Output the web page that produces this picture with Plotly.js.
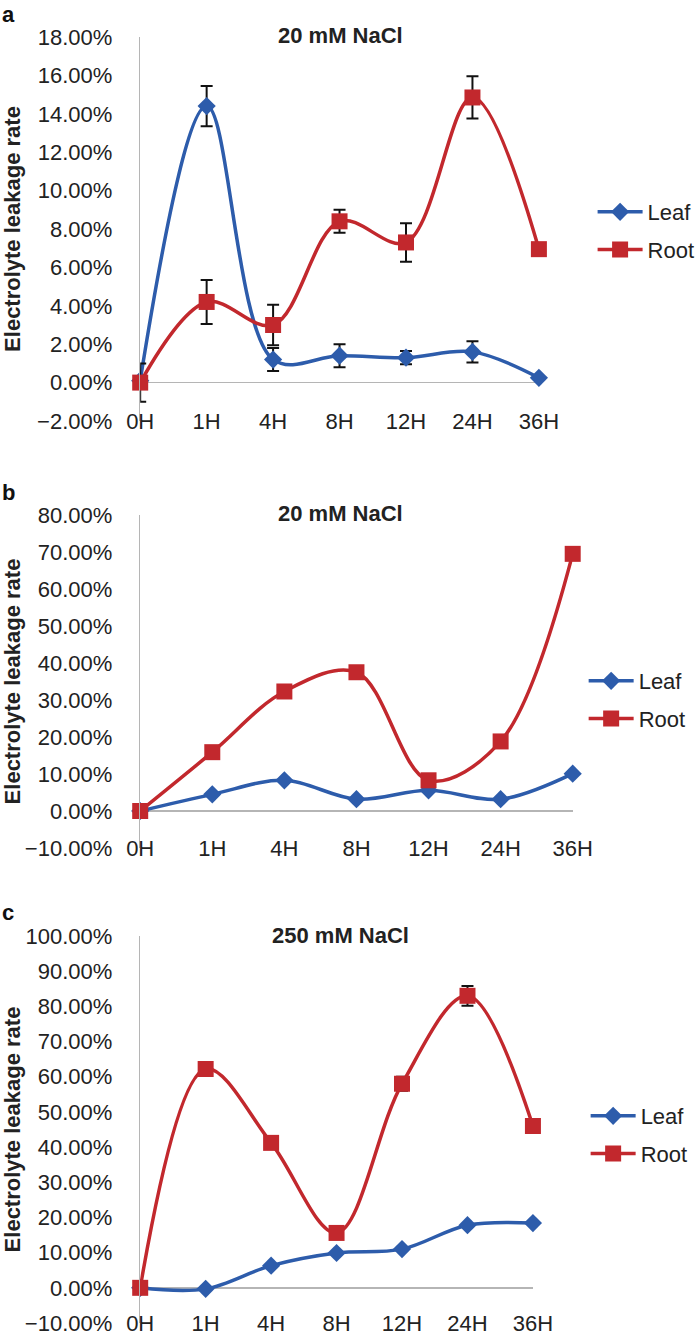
<!DOCTYPE html>
<html>
<head>
<meta charset="utf-8">
<script src="https://cdn.plot.ly/plotly-3.0.1.min.js"></script>
<style>
  html, body { margin: 0; padding: 0; background: #fff; }
  #chart { width: 700px; height: 1337px; }
</style>
</head>
<body>
<div id="chart"></div>
<script>
// time points shared by all three panels
const timePoints = ['0H', '1H', '4H', '8H', '12H', '24H', '36H'];

// panel a - 20 mM NaCl (values in %)
const leafA = [0.1, 14.4, 1.2, 1.4, 1.3, 1.6, 0.25];
const leafErrA = [null, 1.05, 0.6, 0.6, 0.35, 0.55, null];
const rootA = [0.0, 4.2, 3.0, 8.4, 7.3, 14.85, 6.95];
const rootErrA = [1.0, 1.15, 1.05, 0.6, 1.0, 1.1, null];

// panel b - 20 mM NaCl
const leafB = [0.0, 4.5, 8.3, 3.2, 5.6, 3.2, 10.1];
const rootB = [0.0, 15.9, 32.3, 37.5, 8.3, 18.8, 69.5];

// panel c - 250 mM NaCl
const leafC = [0.0, -0.3, 6.3, 9.9, 11.0, 17.8, 18.4];
const rootC = [0.0, 62.2, 41.2, 15.6, 58.0, 83.0, 46.0];
const rootErrC = [null, 1.0, null, null, 2.0, 2.8, null];

const panelTitles = ['20 mM NaCl', '20 mM NaCl', '250 mM NaCl'];
const panelLetters = ['a', 'b', 'c'];
const yRanges = [[-2, 18], [-10, 80], [-10, 100]];
const yDticks = [2, 10, 10];

const W = 700, H = 1337;
const BLUE = '#2d5cab';
const RED = '#c2282d';
const GREY = '#b5b5b5';
const TEXT = '#222222';
const FONT = 'Liberation Sans, Arial, sans-serif';

// pixel boxes of the three plot areas (left, right, top, bottom)
const boxes = [
  { l: 141, r: 542, t: 37, b: 421 },
  { l: 141, r: 576, t: 515, b: 848 },
  { l: 141, r: 536, t: 936, b: 1323 }
];
const legendPos = [
  { x: 596, y: 191 },
  { x: 587, y: 660 },
  { x: 589, y: 1095 }
];
const titleStandoff = [14, 2, 2];

function px(x) { return x / W; }
function py(y) { return 1 - y / H; }

function lineTrace(name, y, err, color, symbol, size, idx) {
  const n = idx === 0 ? '' : String(idx + 1);
  const t = {
    x: timePoints,
    y: y,
    name: name,
    type: 'scatter',
    mode: 'lines+markers',
    line: { color: color, width: 3.5, shape: 'spline', smoothing: 1 },
    marker: { color: color, symbol: symbol, size: size },
    xaxis: 'x' + n,
    yaxis: 'y' + n,
    legend: 'legend' + n,
    legendgroup: name + idx,
    cliponaxis: false
  };
  if (err) {
    t.error_y = { type: 'data', array: err, visible: true, color: '#111', thickness: 2, width: 6 };
  }
  return t;
}

const traces = [
  lineTrace('Leaf', leafA, leafErrA, BLUE, 'diamond', 14, 0),
  lineTrace('Root', rootA, rootErrA, RED, 'square', 16, 0),
  lineTrace('Leaf', leafB, null, BLUE, 'diamond', 14, 1),
  lineTrace('Root', rootB, null, RED, 'square', 16, 1),
  lineTrace('Leaf', leafC, null, BLUE, 'diamond', 14, 2),
  lineTrace('Root', rootC, rootErrC, RED, 'square', 16, 2)
];

const layout = {
  width: W,
  height: H,
  margin: { l: 0, r: 0, t: 0, b: 0 },
  paper_bgcolor: '#fff',
  plot_bgcolor: '#fff',
  font: { family: FONT, size: 22, color: TEXT },
  showlegend: true,
  annotations: []
};

boxes.forEach((b, i) => {
  const n = i === 0 ? '' : String(i + 1);
  layout['xaxis' + n] = {
    type: 'category',
    categoryorder: 'array',
    categoryarray: timePoints,
    domain: [px(b.l), px(b.r)],
    anchor: 'y' + n,
    range: [0, 6],
    fixedrange: true,
    automargin: false,
    showgrid: false,
    zeroline: false,
    showline: false,
    ticks: '',
    tickfont: { size: 22, color: TEXT },
    ticklabelstandoff: -15
  };
  layout['yaxis' + n] = {
    domain: [py(b.b), py(b.t)],
    anchor: 'x' + n,
    range: yRanges[i],
    dtick: yDticks[i],
    tick0: 0,
    fixedrange: true,
    automargin: false,
    tickformat: '.2f',
    ticksuffix: '%',
    showgrid: false,
    showline: true,
    linecolor: GREY,
    linewidth: 1.5,
    zeroline: true,
    zerolinecolor: GREY,
    zerolinewidth: 1.5,
    ticks: '',
    ticklabelstandoff: 22,
    tickfont: { size: 22, color: TEXT },
    title: {
      text: '<b>Electrolyte leakage rate</b>',
      font: { size: 22, color: TEXT },
      standoff: titleStandoff[i]
    }
  };
  layout['legend' + n] = {
    x: px(legendPos[i].x),
    y: py(legendPos[i].y),
    xanchor: 'left',
    yanchor: 'top',
    bgcolor: 'rgba(0,0,0,0)',
    traceorder: 'grouped',
    tracegroupgap: 6,
    itemwidth: 45,
    font: { size: 22, color: TEXT }
  };
  // panel title
  layout.annotations.push({
    text: '<b>' + panelTitles[i] + '</b>',
    xref: 'paper', yref: 'paper',
    x: px(342), y: py([36, 513, 935][i]),
    xanchor: 'center', yanchor: 'middle',
    showarrow: false,
    font: { size: 22, color: TEXT }
  });
  // panel letter
  layout.annotations.push({
    text: '<b>' + panelLetters[i] + '</b>',
    xref: 'paper', yref: 'paper',
    x: 0, y: py([15, 492, 912][i]),
    xanchor: 'left', yanchor: 'middle',
    showarrow: false,
    font: { size: 22, color: '#111' }
  });
});

Plotly.newPlot('chart', traces, layout, { displayModeBar: false, staticPlot: true });
</script>
</body>
</html>
